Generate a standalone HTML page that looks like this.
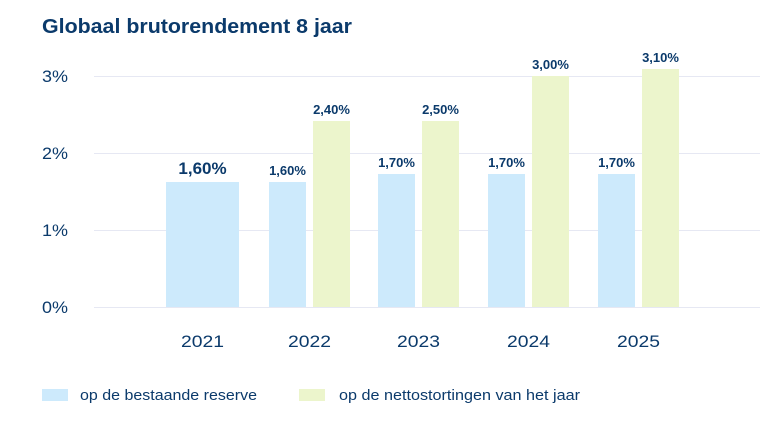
<!DOCTYPE html>
<html><head><meta charset="utf-8"><style>
body{margin:0;background:#fff;}
svg text{font-family:"Liberation Sans",sans-serif;fill:#0b3a6b;}
</style></head><body>
<svg width="772" height="438" xmlns="http://www.w3.org/2000/svg">
<text x="42" y="33" font-size="20" font-weight="bold" textLength="310" lengthAdjust="spacingAndGlyphs">Globaal brutorendement 8 jaar</text>
<g stroke="#e6e8f3" stroke-width="1">
<line x1="94" y1="76.5" x2="760" y2="76.5"/>
<line x1="94" y1="153.5" x2="760" y2="153.5"/>
<line x1="94" y1="230.5" x2="760" y2="230.5"/>
<line x1="94" y1="307.5" x2="760" y2="307.5"/>
</g>
<g font-size="17">
<text x="42" y="82" textLength="26" lengthAdjust="spacingAndGlyphs">3%</text>
<text x="42" y="159" textLength="26" lengthAdjust="spacingAndGlyphs">2%</text>
<text x="42" y="236" textLength="26" lengthAdjust="spacingAndGlyphs">1%</text>
<text x="42" y="313" textLength="26" lengthAdjust="spacingAndGlyphs">0%</text>
</g>
<g fill="#cdeafc">
<rect x="166" y="182" width="73" height="125"/>
<rect x="269" y="182" width="37" height="125"/>
<rect x="378" y="174" width="37" height="133"/>
<rect x="488" y="174" width="37" height="133"/>
<rect x="598" y="174" width="37" height="133"/>
</g>
<g fill="#ecf5cc">
<rect x="313" y="121" width="37" height="186"/>
<rect x="422" y="121" width="37" height="186"/>
<rect x="532" y="76" width="37" height="231"/>
<rect x="642" y="69" width="37" height="238"/>
</g>
<g font-size="13" font-weight="bold" text-anchor="middle">
<text x="202.5" y="174" font-size="17">1,60%</text>
<text x="287.5" y="175">1,60%</text>
<text x="331.5" y="114">2,40%</text>
<text x="396.5" y="167">1,70%</text>
<text x="440.5" y="114">2,50%</text>
<text x="506.5" y="167">1,70%</text>
<text x="550.5" y="69">3,00%</text>
<text x="616.5" y="167">1,70%</text>
<text x="660.5" y="62">3,10%</text>
</g>
<g font-size="17" text-anchor="middle">
<text x="202.5" y="347" textLength="43" lengthAdjust="spacingAndGlyphs">2021</text>
<text x="309.5" y="347" textLength="43" lengthAdjust="spacingAndGlyphs">2022</text>
<text x="418.5" y="347" textLength="43" lengthAdjust="spacingAndGlyphs">2023</text>
<text x="528.5" y="347" textLength="43" lengthAdjust="spacingAndGlyphs">2024</text>
<text x="638.5" y="347" textLength="43" lengthAdjust="spacingAndGlyphs">2025</text>
</g>
<rect x="42" y="389" width="26" height="12" fill="#cdeafc"/>
<text x="80" y="400" font-size="15" textLength="177" lengthAdjust="spacingAndGlyphs">op de bestaande reserve</text>
<rect x="299" y="389" width="26" height="12" fill="#ecf5cc"/>
<text x="339" y="400" font-size="15" textLength="241" lengthAdjust="spacingAndGlyphs">op de nettostortingen van het jaar</text>
</svg>
</body></html>
